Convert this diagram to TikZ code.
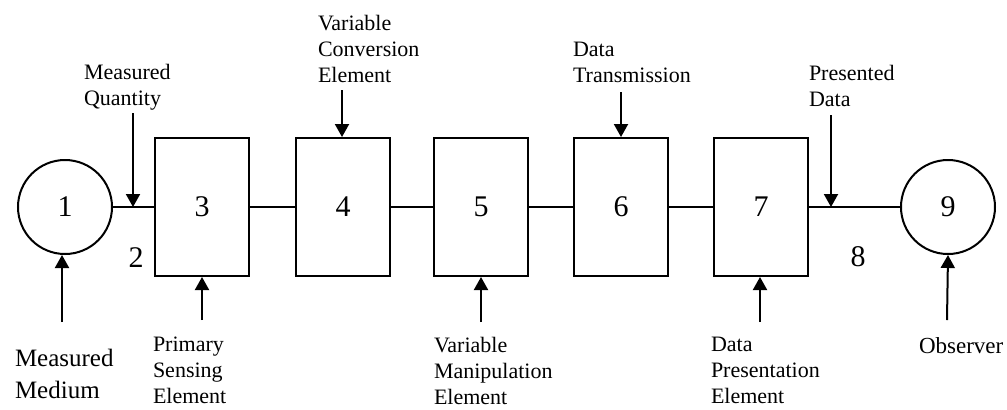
\documentclass[tikz,border=0pt]{standalone}
\usepackage{fontspec}
\setmainfont{Liberation Serif}
\usetikzlibrary{arrows.meta}
\begin{document}
\begin{tikzpicture}[x=0.5pt,y=-0.5pt,
  line width=1pt,
  blk/.style={draw,rectangle,minimum width=47pt,minimum height=69pt,inner sep=0pt,font=\fontsize{15}{18}\selectfont},
  rnd/.style={draw,circle,minimum size=47pt,inner sep=0pt,font=\fontsize{15}{18}\selectfont},
  lbl/.style={anchor=north west,inner sep=0pt,align=left,font=\fontsize{11}{13}\selectfont},
  biglbl/.style={anchor=north west,inner sep=0pt,align=left,font=\fontsize{12.5}{16}\selectfont},
  num/.style={inner sep=0pt,font=\fontsize{15}{18}\selectfont},
  arr/.style={-{Triangle[length=6.5pt,width=7pt]}}]
\useasboundingbox (0,0) rectangle (1007,409);
% main nodes
\node[rnd] (c1) at (65,207) {1};
\node[blk] (b3) at (202,207) {3};
\node[blk] (b4) at (343,207) {4};
\node[blk] (b5) at (481,207) {5};
\node[blk] (b6) at (621,207) {6};
\node[blk] (b7) at (761,207) {7};
\node[rnd] (c9) at (948,207) {9};
% signal line
\draw (c1.east) -- (b3.west);
\draw (b3.east) -- (b4.west);
\draw (b4.east) -- (b5.west);
\draw (b5.east) -- (b6.west);
\draw (b6.east) -- (b7.west);
\draw (b7.east) -- (c9.west);
\coordinate (q2) at (133,207);
\coordinate (q8) at (831,207);
% numbers on line
\node[num] (n2) at (136,258) {2};
\node[num] (n8) at (858,257) {8};
% labels
\node[lbl] (lMQ) at (83,63) {Measured\\Quantity};
\node[biglbl] (lMM) at (14,348) {Measured\\Medium};
\node[lbl] (lPS) at (152,336) {Primary\\Sensing\\Element};
\node[lbl] (lVC) at (317,14) {Variable\\Conversion\\Element};
\node[lbl] (lVM) at (433,336) {Variable\\Manipulation\\Element};
\node[lbl] (lDT) at (572,41) {Data\\Transmission};
\node[lbl] (lDP) at (710,336) {Data\\Presentation\\Element};
\node[lbl] (lPD) at (808,64) {Presented\\Data};
\node[anchor=north west,inner sep=0pt,font=\fontsize{11.5}{14}\selectfont] (lOB) at (918,337) {Observer};
% arrow tails
\coordinate (tMQ) at (133,113);
\coordinate (tMM) at (62,322);
\coordinate (tPS) at (202,320);
\coordinate (tVC) at (342,90);
\coordinate (tVM) at (481,322);
\coordinate (tDT) at (621,92);
\coordinate (tDP) at (760,322);
\coordinate (tPD) at (831,115);
\coordinate (tOB) at (947,320);
% arrows
\draw[arr] (tMQ) -- (q2);
\draw[arr] (tMM) -- (tMM |- c1.south);
\draw[arr] (tPS) -- (tPS |- b3.south);
\draw[arr] (tVC) -- (tVC |- b4.north);
\draw[arr] (tVM) -- (tVM |- b5.south);
\draw[arr] (tDT) -- (tDT |- b6.north);
\draw[arr] (tDP) -- (tDP |- b7.south);
\draw[arr] (tPD) -- (q8);
\draw[arr] (tOB) -- (c9.south);
\end{tikzpicture}
\end{document}
